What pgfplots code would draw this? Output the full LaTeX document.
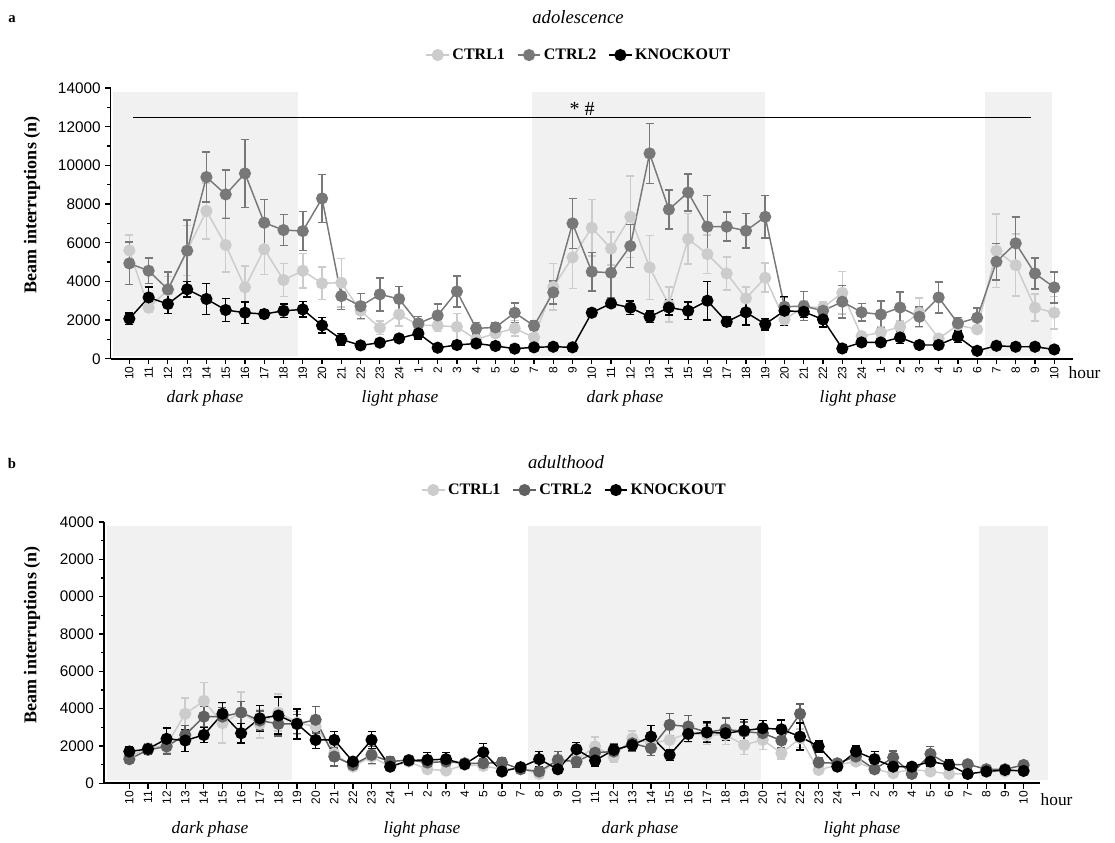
\documentclass[border=0pt]{standalone}
\usepackage{fontspec}
\setmainfont{Liberation Serif}
\newfontfamily\sansnum{Liberation Sans}
\usepackage{pgfplots}
\usepackage{pgfplotstable}
\pgfplotsset{compat=1.18}

\definecolor{cOne}{gray}{0.80}
\definecolor{cTwo}{gray}{0.47}
\definecolor{cTwoB}{gray}{0.38}
\definecolor{shadebg}{gray}{0.945}

% hourly beam interruptions: mean and error for each group
\pgfplotstableread{
x  c1    e1    c2     e2    ko    e3
0  5600  800   4930   1100  2070  300
1  2640  250   4550   650   3170  550
2  3550  700   3586   900   2830  500
3  5600  1300  5586   1600  3590  400
4  7640  1450  9396   1300  3090  800
5  5880  1400  8500   1250  2520  600
6  3690  1100  9585   1750  2380  550
7  5670  1300  7034   1200  2310  200
8  4070  850   6655   800   2480  350
9  4550  900   6603   1000  2550  400
10 3900  850   8292   1250  1720  400
11 3930  1250  3240   700   1000  300
12 2480  450   2720   650   690   100
13 1600  350   3330   850   830   100
14 2290  600   3090   650   1050  150
15 1740  300   1830   350   1310  300
16 1710  300   2240   600   570   100
17 1650  700   3480   800   710   100
18 1000  200   1570   300   790   200
19 1310  200   1620   250   660   100
20 1570  400   2380   500   520   100
21 1100  200   1700   250   590   100
22 3720  1200  3430   600   620   100
23 5240  1600  7000   1300  590   100
24 6775  1450  4500   1000  2380  150
25 5700  850   4450   1300  2860  200
26 7340  2100  5830   1100  2640  350
27 4720  1650  10620  1550  2170  300
28 2800  900   7720   1000  2650  400
29 6200  1300  8600   950   2480  450
30 5410  1000  6830   1600  3000  1000
31 4410  850   6830   750   1910  250
32 3120  600   6620   900   2400  650
33 4190  750   7340   1100  1790  300
34 2030  300   2690   500   2480  750
35 2690  300   2720   750   2430  300
36 2640  300   2480   350   2030  400
37 3410  1100  2950   850   530   100
38 1170  200   2400   450   845   150
39 1360  300   2290   700   845   150
40 1650  300   2650   800   1100  300
41 2380  750   2170   500   710   100
42 1050  200   3170   800   710   100
43 1740  300   1830   300   1140  300
44 1520  200   2120   500   410   100
45 5590  1900  5020   950   670   100
46 4840  1600  5970   1350  620   100
47 2640  700   4410   800   620   100
48 2380  850   3690   800   480   100
}\adolescence

\pgfplotstableread{
x  c1    e1    c2    e2    ko    e3
0  1430  200   1290  200   1700  250
1  1880  250   1790  250   1840  300
2  2050  400   1970  400   2380  580
3  3720  840   2590  500   2290  600
4  4410  980   3570  550   2590  400
5  3220  1070  3570  500   3720  600
6  3790  1100  3790  600   2680  530
7  3180  750   3360  500   3480  700
8  3790  1000  3180  650   3630  1000
9  3250  600   3180  500   3180  800
10 3040  600   3400  700   2320  450
11 1600  400   1430  500   2320  450
12 890   200   980   200   1160  200
13 1430  400   1520  450   2320  450
14 890   200   1160  250   890   200
15 1160  200   1250  250   1220  250
16 750   200   1110  250   1250  400
17 680   200   1160  250   1290  350
18 980   200   1070  200   1020  200
19 930   250   1070  250   1660  480
20 750   200   1110  250   630   150
21 800   200   750   200   860   150
22 500   150   630   150   1290  400
23 1220  300   1250  450   750   150
24 1250  400   1160  300   1820  360
25 1970  500   1640  400   1220  300
26 1430  300   1700  400   1790  300
27 2410  400   2140  400   2050  300
28 2140  500   1880  400   2500  600
29 2320  500   3130  600   1520  300
30 2680  500   3040  600   2640  400
31 2590  500   2730  500   2730  550
32 2590  500   2890  600   2680  400
33 2050  500   2770  500   2820  590
34 2320  500   2680  400   2950  400
35 1610  300   2290  400   2890  500
36 2410  500   3720  520   2500  720
37 710   200   1110  250   1970  300
38 980   200   1070  200   890   200
39 1160  200   1430  250   1700  300
40 750   200   750   200   1290  400
41 540   150   1380  350   890   200
42 750   150   500   150   890   200
43 630   150   1570  400   1160  300
44 500   150   980   200   980   300
45 500   150   1020  200   500   150
46 630   150   750   200   630   150
47 630   150   750   200   710   150
48 710   150   980   200   660   150
}\adulthood

\def\sx{0.75pt}

\pgfplotsset{
  beam/.style={
    scale only axis,
    clip=false,
    axis x line*=bottom,
    axis y line*=left,
    axis line style={line width=1.2pt},
    tick align=outside,
    major tick length=4pt,
    minor tick length=2.5pt,
    every tick/.style={black, line width=0.9pt},
    xtick={0,...,48},
    xticklabels={10,11,12,13,14,15,16,17,18,19,20,21,22,23,24,1,2,3,4,5,6,7,8,9,10,11,12,13,14,15,16,17,18,19,20,21,22,23,24,1,2,3,4,5,6,7,8,9,10},
    x tick label style={rotate=90, anchor=east, inner sep=1.5pt, font=\sansnum\fontsize{9}{9}\selectfont},
    y tick label style={font=\sansnum\fontsize{11.5}{11.5}\selectfont},
    ymin=0, ymax=14000,
    ytick={0,2000,...,14000},
    scaled y ticks=false,
    minor y tick num=1,
    legend columns=3,
    legend cell align=left,
    legend style={draw=none, fill=none, anchor=center,
      font=\bfseries\fontsize{12}{12}\selectfont,
      /tikz/every even column/.append style={column sep=7pt}},
  },
  grp/.style={mark=*, mark size=4pt, line width=1.1pt,
    error bars/.cd, y dir=both, y explicit,
    error bar style={line width=1.1pt},
    error mark options={line width=1.1pt, mark size=3pt, rotate=90}},
}

\begin{document}
\begin{tikzpicture}
\useasboundingbox (0,0) rectangle (836.25pt,632.25pt);

% ---------- panel a ----------
\node[font=\bfseries\fontsize{11}{11}\selectfont] at ({12*\sx},{(843-19)*\sx}) {a};
\node[font=\itshape\fontsize{14}{14}\selectfont] at ({578*\sx},{(843-17)*\sx}) {adolescence};
\begin{axis}[beam,
  at={(83.0pt,363.2pt)}, anchor=south west,
  width=721.7pt, height=203.0pt,
  xmin=-0.97, xmax=48.97,
  yticklabels={0,2000,4000,6000,8000,10000,12000,14000},
  legend style={at={(0.487,1.122)}},
]
\fill[shadebg] (axis cs:-0.86,150) rectangle (axis cs:8.74,13800);
\fill[shadebg] (axis cs:20.9,150) rectangle (axis cs:33.0,13800);
\fill[shadebg] (axis cs:44.4,150) rectangle (axis cs:47.86,13800);
\addplot[color=cOne, grp] table[x=x, y=c1, y error=e1] {\adolescence};
\addplot[color=cTwo, grp] table[x=x, y=c2, y error=e2] {\adolescence};
\addplot[color=black, grp] table[x=x, y=ko, y error=e3] {\adolescence};
\legend{CTRL1, CTRL2, KNOCKOUT}
\draw[line width=0.7pt] (axis cs:0.2,12500) -- (axis cs:46.8,12500);
\node[anchor=south, inner sep=1pt, font=\fontsize{15}{15}\selectfont] at (axis cs:23.5,12500) {* \#};
\end{axis}
\node[rotate=90, font=\bfseries\fontsize{13.5}{13.5}\selectfont] at ({32*\sx},{(843-205)*\sx}) {Beam interruptions (n)};
\node[anchor=west, font=\fontsize{13}{13}\selectfont] at ({1064*\sx},{(843-373)*\sx}) {hour};
\foreach \xx/\tt in {205/dark phase, 400/light phase, 625/dark phase, 858/light phase}
  \node[font=\itshape\fontsize{13}{13}\selectfont] at ({\xx*\sx},{(843-398)*\sx}) {\tt};

% ---------- panel b ----------
\node[font=\bfseries\fontsize{11}{11}\selectfont] at ({12*\sx},{(843-463)*\sx}) {b};
\node[font=\itshape\fontsize{14}{14}\selectfont] at ({566*\sx},{(843-462)*\sx}) {adulthood};
\begin{axis}[beam,
  at={(78.0pt,44.8pt)}, anchor=south west,
  width=702pt, height=196.0pt,
  xmin=-1.36, xmax=48.88,
  yticklabels={0,2000,4000,6000,8000,0000,2000,4000},
  legend style={at={(0.503,1.122)}},
]
\fill[shadebg] (axis cs:-1.2,150) rectangle (axis cs:8.72,13800);
\fill[shadebg] (axis cs:21.4,150) rectangle (axis cs:33.9,13800);
\fill[shadebg] (axis cs:45.6,150) rectangle (axis cs:49.3,13800);
\addplot[color=cOne, grp] table[x=x, y=c1, y error=e1] {\adulthood};
\addplot[color=cTwoB, grp] table[x=x, y=c2, y error=e2] {\adulthood};
\addplot[color=black, grp] table[x=x, y=ko, y error=e3] {\adulthood};
\legend{CTRL1, CTRL2, KNOCKOUT}
\end{axis}
\node[rotate=90, font=\bfseries\fontsize{13.5}{13.5}\selectfont] at ({32*\sx},{(843-635)*\sx}) {Beam interruptions (n)};
\node[anchor=west, font=\fontsize{13}{13}\selectfont] at ({1036*\sx},{(843-800)*\sx}) {hour};
\foreach \xx/\tt in {210/dark phase, 422/light phase, 640/dark phase, 862/light phase}
  \node[font=\itshape\fontsize{13}{13}\selectfont] at ({\xx*\sx},{(843-829)*\sx}) {\tt};
\end{tikzpicture}
\end{document}
